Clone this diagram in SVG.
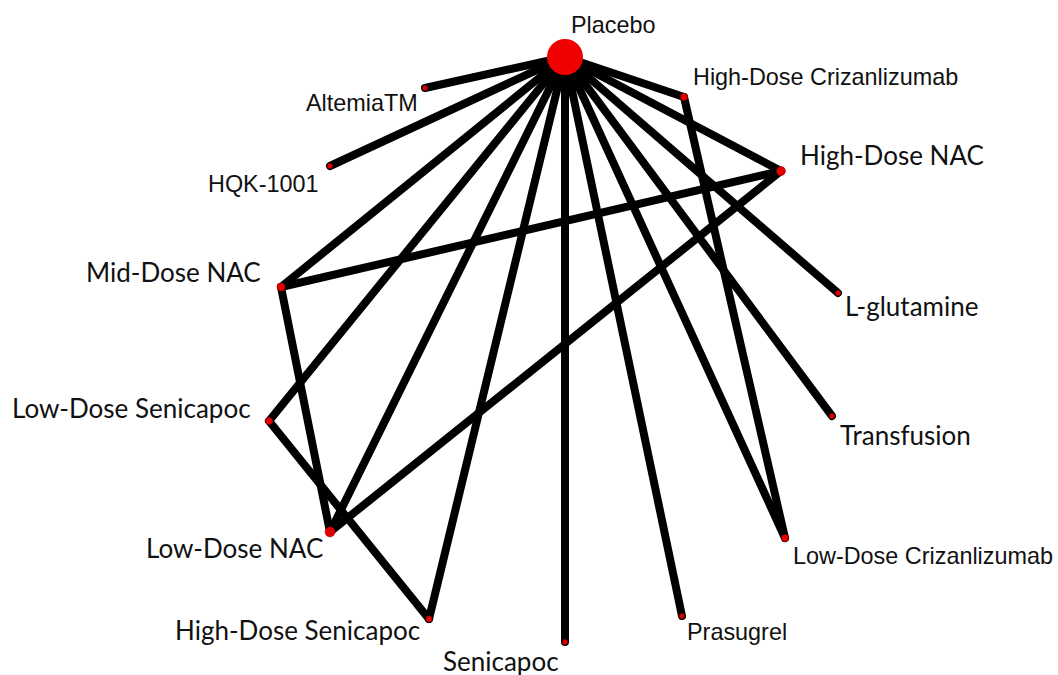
<svg xmlns="http://www.w3.org/2000/svg" width="1058" height="675" viewBox="0 0 1058 675">
<style>
.e{stroke:#000;stroke-width:8;stroke-linecap:round;fill:none}
.n{fill:#e00000;stroke:#b00000;stroke-width:0.5}
.a{font-family:"Liberation Sans",Arial,sans-serif;font-size:23.4px;fill:#111}
.c{font-family:Lato,"Open Sans",sans-serif;font-size:26px;fill:#111}
</style>
<rect width="1058" height="675" fill="#fff"/>
<g id="edges">
<line class="e" x1="565" y1="57" x2="425" y2="88"/>
<line class="e" x1="565" y1="57" x2="330" y2="166"/>
<line class="e" x1="565" y1="57" x2="281" y2="287"/>
<line class="e" x1="565" y1="57" x2="269" y2="421"/>
<line class="e" x1="565" y1="57" x2="330" y2="532"/>
<line class="e" x1="565" y1="57" x2="429" y2="619"/>
<line class="e" x1="565" y1="57" x2="565" y2="642"/>
<line class="e" x1="565" y1="57" x2="682" y2="616"/>
<line class="e" x1="565" y1="57" x2="785" y2="538"/>
<line class="e" x1="565" y1="57" x2="832" y2="416"/>
<line class="e" x1="565" y1="57" x2="838" y2="293"/>
<line class="e" x1="565" y1="57" x2="781" y2="171"/>
<line class="e" x1="565" y1="57" x2="684" y2="97"/>
<line class="e" x1="684" y1="97" x2="785" y2="538"/>
<line class="e" x1="781" y1="171" x2="281" y2="287"/>
<line class="e" x1="781" y1="171" x2="330" y2="532"/>
<line class="e" x1="281" y1="287" x2="330" y2="532"/>
<line class="e" x1="269" y1="421" x2="429" y2="619"/>
</g>
<g id="placebo"><circle cx="565" cy="57" r="18" fill="#f00000"/><text class="a" x="571" y="33">Placebo</text></g>
<g id="altemia"><circle class="n" cx="425" cy="88" r="2.5"/><text class="a" x="306" y="111">AltemiaTM</text></g>
<g id="hqk"><circle class="n" cx="330" cy="166" r="2.5"/><text class="a" x="208" y="192">HQK-1001</text></g>
<g id="hd-criz"><circle class="n" cx="684" cy="97" r="3.5"/><text class="a" x="693" y="85">High-Dose Crizanlizumab</text></g>
<g id="hd-nac"><circle class="n" cx="781" cy="171" r="4.5"/><text class="c" x="800" y="165">High-Dose NAC</text></g>
<g id="md-nac"><circle class="n" cx="281" cy="287" r="4"/><text class="c" x="86" y="282">Mid-Dose NAC</text></g>
<g id="lglut"><circle class="n" cx="838" cy="293" r="2.5"/><text class="c" x="845" y="316">L-glutamine</text></g>
<g id="ld-sen"><circle class="n" cx="269" cy="421" r="3.5"/><text class="c" x="12" y="418">Low-Dose Senicapoc</text></g>
<g id="transfusion"><circle class="n" cx="832" cy="416" r="2.5"/><text class="c" x="840" y="445">Transfusion</text></g>
<g id="ld-nac"><circle class="n" cx="330" cy="532" r="5"/><text class="c" x="146" y="558">Low-Dose NAC</text></g>
<g id="ld-criz"><circle class="n" cx="785" cy="538" r="3.5"/><text class="a" x="793" y="564">Low-Dose Crizanlizumab</text></g>
<g id="hd-sen"><circle class="n" cx="429" cy="619" r="3"/><text class="c" x="175" y="640">High-Dose Senicapoc</text></g>
<g id="prasugrel"><circle class="n" cx="682" cy="616" r="2.5"/><text class="a" x="687" y="640">Prasugrel</text></g>
<g id="senicapoc"><circle class="n" cx="565" cy="642" r="2.5"/><text class="c" x="443" y="671">Senicapoc</text></g>
</svg>
